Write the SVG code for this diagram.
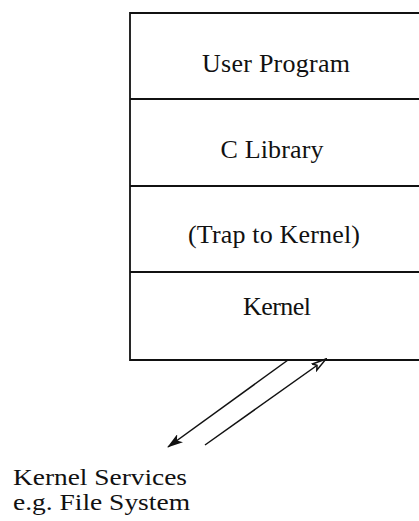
<svg xmlns="http://www.w3.org/2000/svg" width="419" height="521" viewBox="0 0 419 521">
  <style>
    .frame { fill: none; stroke: #111; stroke-width: 1.8; }
    .label { font-family: "Liberation Serif", "Times New Roman", serif; font-size: 26px; fill: #111; }
    .note { font-size: 24px; }
    .mid { text-anchor: middle; }
    .conn { stroke: #111; stroke-width: 1.5; fill: none; }
  </style>
  <defs>
    <marker id="headSolid" viewBox="0 0 16 10" refX="15" refY="5" markerWidth="16" markerHeight="10" markerUnits="userSpaceOnUse" orient="auto">
      <path d="M0,0 L16,5 L0,10 L4,5 Z" fill="#111"/>
    </marker>
    <marker id="headOpen" viewBox="0 0 16 10" refX="15" refY="5" markerWidth="16" markerHeight="10" markerUnits="userSpaceOnUse" orient="auto">
      <path d="M1,1.2 L15,5 L1,8.8 L4,5 Z" fill="#fff" stroke="#111" stroke-width="1.5"/>
    </marker>
  </defs>

  <rect width="419" height="521" fill="#fff"/>

  <!-- layered stack: left edge, runs off to the right -->
  <g id="stack-frame">
    <path class="frame" d="M419,13 H130 V360 H419"/>
  </g>

  <g id="user-program">
    <text class="label mid" x="276" y="72" textLength="148">User Program</text>
  </g>
  <g id="c-library">
    <path class="frame" d="M130,99 H419"/>
    <text class="label mid" x="272" y="158" textLength="103">C Library</text>
  </g>
  <g id="trap-to-kernel">
    <path class="frame" d="M130,186 H419"/>
    <text class="label mid" x="274" y="243" textLength="172">(Trap to Kernel)</text>
  </g>
  <g id="kernel">
    <path class="frame" d="M130,272 H419"/>
    <text class="label mid" x="277" y="315" textLength="68">Kernel</text>
  </g>

  <g id="kernel-services">
    <text class="label note" x="13" y="485" textLength="174" lengthAdjust="spacingAndGlyphs">Kernel Services</text>
    <text class="label note" x="13" y="510" textLength="177" lengthAdjust="spacingAndGlyphs">e.g. File System</text>
  </g>

  <g id="connectors">
    <line class="conn" x1="288" y1="360" x2="168" y2="447" marker-end="url(#headSolid)"/>
    <line class="conn" x1="205" y1="445" x2="326" y2="359" marker-end="url(#headOpen)"/>
  </g>
</svg>
